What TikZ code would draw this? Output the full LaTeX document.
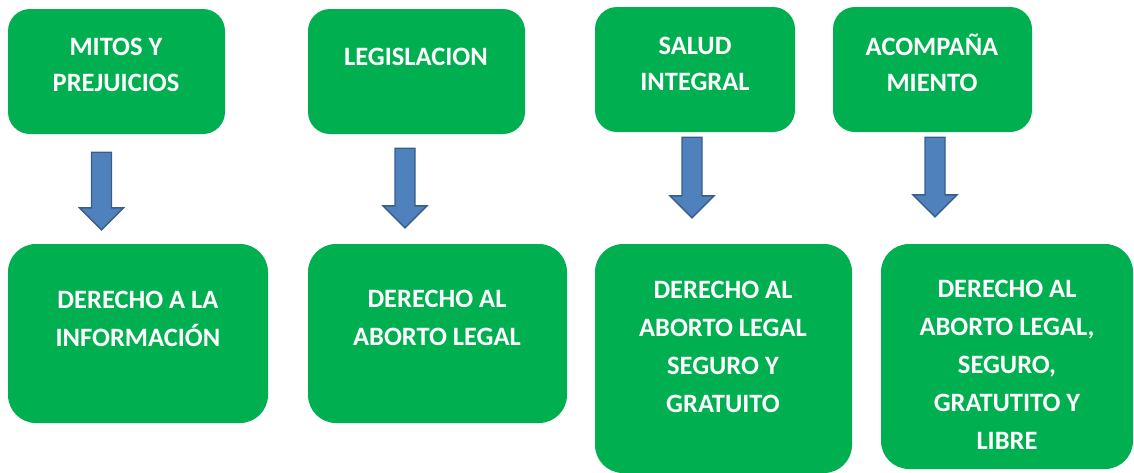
\documentclass[tikz,border=0pt]{standalone}
\usepackage{fontspec}
\setmainfont{Carlito}
\usepackage{tikz}
\usetikzlibrary{positioning, calc}
\definecolor{cajaverde}{HTML}{00B050}
\definecolor{flechaazul}{HTML}{4F81BD}
\definecolor{bordeazul}{HTML}{385D8A}

\tikzset{
  caja/.style={fill=cajaverde, rounded corners=22pt, inner sep=0pt},
  cajagrande/.style={caja, rounded corners=28pt},
  texto/.style={text=white, font=\fontsize{26.5}{38}\selectfont\bfseries, align=center},
  textoarriba/.style={texto, font=\fontsize{26.5}{36}\selectfont\bfseries},
  flecha/.style={fill=flechaazul, draw=bordeazul, line width=1.4pt, line join=miter}
}
% block arrow from (#1) down to the tip at (#2)
\newcommand{\flechabloque}[2]{%
  \filldraw[flecha] let \p1=(#1), \p2=(#2) in
    (\x1-10pt,\y1) -- (\x1+10pt,\y1) -- (\x1+10pt,\y2+22pt) -- (\x1+22pt,\y2+22pt)
    -- (\x1,\y2) -- (\x1-22pt,\y2+22pt) -- (\x1-10pt,\y2+22pt) -- cycle;
}

\begin{document}
\begin{tikzpicture}[x=1pt, y=-1pt]
  \useasboundingbox (0,0) rectangle (1134,472);
  % top row
  \node[caja, minimum width=217pt, minimum height=125pt] (mitos) at (116.5,71.5) {};
  \node[caja, minimum width=217pt, minimum height=125pt] (legis) at (416.5,71.5) {};
  \node[caja, minimum width=200pt, minimum height=125pt] (salud) at (695,69.5) {};
  \node[caja, minimum width=199pt, minimum height=125pt] (acomp) at (932.5,69.5) {};
  \node[textoarriba] (mitos-t) at (116,65) {MITOS Y\\PREJUICIOS};
  \node[textoarriba] (legis-t) at (416,57) {LEGISLACION};
  \node[textoarriba] (salud-t) at (695,64) {SALUD\\INTEGRAL};
  \node[textoarriba] (acomp-t) at (932,63) {ACOMPAÑA\\MIENTO};
  % bottom row
  \node[cajagrande, minimum width=260pt, minimum height=179pt] (info) at (138,333.5) {};
  \node[cajagrande, minimum width=259pt, minimum height=179pt] (aborto) at (437.5,333.5) {};
  \node[cajagrande, minimum width=257pt, minimum height=229pt] (seguro) at (723.5,358.5) {};
  \node[cajagrande, minimum width=252pt, minimum height=225pt] (libre) at (1007,356.5) {};
  \node[texto] (info-t) at (138,319) {DERECHO A LA\\INFORMACIÓN};
  \node[texto] (aborto-t) at (437,318) {DERECHO AL\\ABORTO LEGAL};
  \node[texto] (seguro-t) at (723,347) {DERECHO AL\\ABORTO LEGAL\\SEGURO Y\\GRATUITO};
  \node[texto] (libre-t) at (1007,364.5) {DERECHO AL\\ABORTO LEGAL,\\SEGURO,\\GRATUTITO Y\\LIBRE};
  % arrows
  \flechabloque{[xshift=-15pt,yshift=-18pt]mitos.south}{[yshift=14pt]info.north}
  \flechabloque{[xshift=-11.5pt,yshift=-14pt]legis.south}{[yshift=16pt]aborto.north}
  \flechabloque{[xshift=-3pt,yshift=-5pt]salud.south}{[yshift=26pt]seguro.north}
  \flechabloque{[xshift=2.5pt,yshift=-5pt]acomp.south}{[yshift=27pt]libre.north}
\end{tikzpicture}
\end{document}
